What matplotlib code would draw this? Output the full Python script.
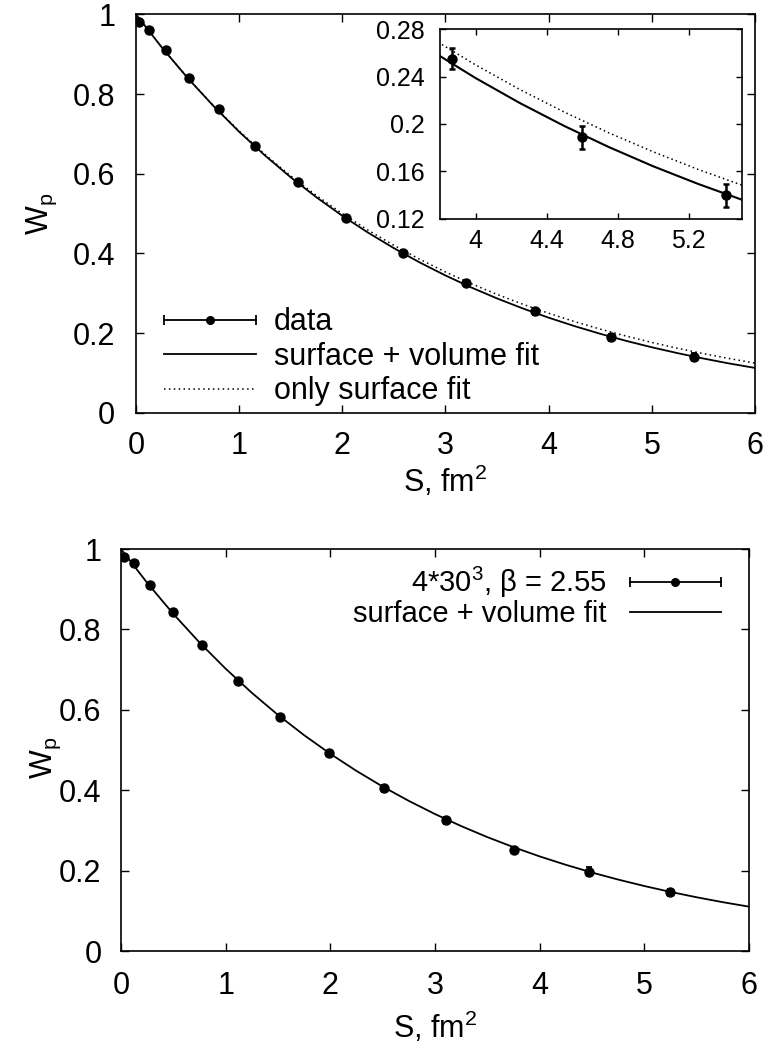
import matplotlib
matplotlib.use("Agg")
import matplotlib.pyplot as plt
from matplotlib.lines import Line2D
from matplotlib.legend_handler import HandlerBase
from matplotlib import font_manager

# ---------------- data ----------------
# top panel: measured points
top_S = [0.03, 0.128, 0.286, 0.512, 0.80, 1.153, 1.571, 2.04, 2.593, 3.198, 3.87, 4.60, 5.41]
top_W = [0.980, 0.961, 0.910, 0.840, 0.762, 0.669, 0.579, 0.488, 0.402, 0.325, 0.255, 0.189, 0.140]
top_err = [0.003, 0.003, 0.003, 0.003, 0.004, 0.004, 0.004, 0.005, 0.006, 0.006, 0.0087, 0.0097, 0.0095]

# fit curves (values read at S grid)
curve_S = [0.0, 0.25, 0.5, 0.75, 1.0, 1.25, 1.5, 1.75, 2.0, 2.25, 2.5, 2.75, 3.0,
           3.25, 3.5, 3.75, 4.0, 4.25, 4.5, 4.75, 5.0, 5.25, 5.5, 5.75, 6.0]
top_sv_fit = [1.0, 0.9169, 0.8404, 0.7700, 0.7052, 0.6457, 0.5909, 0.5406, 0.4944,
              0.4520, 0.4131, 0.3773, 0.3446, 0.3145, 0.2870, 0.2618, 0.2387, 0.2176,
              0.1983, 0.1806, 0.1644, 0.1497, 0.1362, 0.1238, 0.1126]
top_s_fit = [1.0, 0.9170, 0.8408, 0.7710, 0.7070, 0.6483, 0.5944, 0.5451, 0.4998,
             0.4583, 0.4202, 0.3853, 0.3533, 0.3240, 0.2971, 0.2724, 0.2498, 0.2290,
             0.2100, 0.1926, 0.1766, 0.1619, 0.1485, 0.1361, 0.1248]

# bottom panel
bot_S = [0.03, 0.127, 0.28, 0.497, 0.777, 1.118, 1.522, 1.988, 2.514, 3.104, 3.757, 4.473, 5.244]
bot_W = [0.980, 0.964, 0.911, 0.843, 0.761, 0.673, 0.582, 0.493, 0.405, 0.3255, 0.2524, 0.1978, 0.1466]
bot_err = [0.003, 0.003, 0.003, 0.003, 0.004, 0.004, 0.005, 0.006, 0.009, 0.008, 0.008, 0.011, 0.009]
bot_sv_fit = [1.0, 0.9160, 0.8387, 0.7677, 0.7025, 0.6426, 0.5876, 0.5372, 0.4909,
              0.4484, 0.4095, 0.3739, 0.3412, 0.3113, 0.2839, 0.2589, 0.2359, 0.2150,
              0.1958, 0.1783, 0.1623, 0.1477, 0.1343, 0.1221, 0.1110]

x_ticks = [0, 1, 2, 3, 4, 5, 6]
y_ticks = [0, 0.2, 0.4, 0.6, 0.8, 1]
y_ticklabels = ["0", "0.2", "0.4", "0.6", "0.8", "1"]
inset_xticks = [4.0, 4.4, 4.8, 5.2]
inset_xticklabels = ["4", "4.4", "4.8", "5.2"]
inset_yticks = [0.12, 0.16, 0.20, 0.24, 0.28]
inset_yticklabels = ["0.12", "0.16", "0.2", "0.24", "0.28"]

legend_top = ["data", "surface + volume fit", "only surface fit"]
legend_bot = [r"4*30$^3$, β = 2.55", "surface + volume fit"]
xlabel = r"S, fm$^2$"
ylabel = r"W$_\mathrm{p}$"

# ---------------- style ----------------
names = {f.name for f in font_manager.fontManager.ttflist}
main_font = "Liberation Sans"
narrow_font = "Liberation Sans Narrow" if "Liberation Sans Narrow" in names else main_font

plt.rcParams["font.family"] = [main_font, "DejaVu Sans"]
plt.rcParams["mathtext.fontset"] = "custom"
plt.rcParams["mathtext.rm"] = main_font
plt.rcParams["mathtext.it"] = main_font + ":italic"
plt.rcParams["mathtext.sf"] = main_font

FS = 22


class HandlerErrH(HandlerBase):
    def create_artists(self, legend, orig_handle, xdescent, ydescent, width,
                       height, fontsize, trans):
        y = height / 2 - ydescent
        x0 = -xdescent
        x1 = -xdescent + width
        line = Line2D([x0, x1], [y, y], color="k", lw=1.3)
        dot = Line2D([(x0 + x1) / 2], [y], marker="o", ms=5.5, color="k", ls="none")
        caps = Line2D([x0, x1], [y, y], marker="|", ms=7, mew=1.3, ls="none", color="k")
        for a in (line, dot, caps):
            a.set_transform(trans)
        return [line, dot, caps]


def style_axes(ax, fs, family):
    for sp in ax.spines.values():
        sp.set_linewidth(1.2)
    ax.tick_params(direction="in", top=True, right=True, length=6, width=1.0)
    for lab in ax.get_xticklabels() + ax.get_yticklabels():
        lab.set_fontsize(fs)
        lab.set_family([family, "DejaVu Sans"])


fig = plt.figure(figsize=(7.71, 10.5), dpi=100)

# ---------------- top panel ----------------
ax1 = fig.add_axes([0.1764, 0.60686, 0.8028, 0.37952])
eb1 = ax1.errorbar(top_S, top_W, yerr=top_err, fmt="o", color="k", ms=6.5,
                   elinewidth=1.3, capsize=2.5, capthick=1.3)
l1, = ax1.plot(curve_S, top_sv_fit, color="k", lw=1.3)
l2, = ax1.plot(curve_S, top_s_fit, color="k", lw=1.1, ls=(0, (1, 2.2)))
ax1.set_xlim(0, 6)
ax1.set_ylim(0, 1)
ax1.set_xticks(x_ticks)
ax1.set_yticks(y_ticks)
ax1.set_yticklabels(y_ticklabels)
ax1.tick_params(axis="y", pad=15)
ax1.tick_params(axis="x", pad=13)
style_axes(ax1, FS, main_font)
ax1.set_xlabel(xlabel, fontsize=FS, va="top")
ax1.xaxis.set_label_coords(0.5, -0.128)
ax1.set_ylabel(ylabel, fontsize=FS)
ax1.yaxis.set_label_coords(-0.124, 0.5)
ax1.legend([eb1, l1, l2], legend_top, handler_map={type(eb1): HandlerErrH()},
           loc="upper left", bbox_to_anchor=(0.045, 0.265), frameon=False,
           fontsize=FS, handlelength=3.0, handletextpad=0.6, labelspacing=0.15,
           borderpad=0.0, borderaxespad=0.0)

# inset
axi = fig.add_axes([0.5707, 0.79143, 0.3917, 0.18095])
axi.errorbar(top_S, top_W, yerr=top_err, fmt="o", color="k", ms=6.5,
             elinewidth=1.8, capsize=2.5, capthick=1.8)
axi.plot(curve_S, top_sv_fit, color="k", lw=1.5)
axi.plot(curve_S, top_s_fit, color="k", lw=1.1, ls=(0, (1, 2.0)))
axi.set_xlim(3.8, 5.5)
axi.set_ylim(0.12, 0.28)
axi.set_xticks(inset_xticks)
axi.set_xticklabels(inset_xticklabels)
axi.set_yticks(inset_yticks)
axi.set_yticklabels(inset_yticklabels)
style_axes(axi, 18, main_font)
axi.tick_params(length=4)
axi.tick_params(axis="y", pad=11)
axi.tick_params(axis="x", pad=7)

# ---------------- bottom panel ----------------
ax2 = fig.add_axes([0.1569, 0.09400, 0.8145, 0.38314])
eb2 = ax2.errorbar(bot_S, bot_W, yerr=bot_err, fmt="o", color="k", ms=6.5,
                   elinewidth=1.3, capsize=2.5, capthick=1.3)
l3, = ax2.plot(curve_S, bot_sv_fit, color="k", lw=1.3)
ax2.set_xlim(0, 6)
ax2.set_ylim(0, 1)
ax2.set_xticks(x_ticks)
ax2.set_yticks(y_ticks)
ax2.set_yticklabels(y_ticklabels)
ax2.tick_params(axis="y", pad=14)
ax2.tick_params(axis="x", pad=14)
style_axes(ax2, FS, narrow_font)
ax2.set_xlabel(xlabel, fontsize=FS, va="top", family=[narrow_font, "DejaVu Sans"])
ax2.xaxis.set_label_coords(0.5, -0.145)
ax2.set_ylabel(ylabel, fontsize=FS, family=[narrow_font, "DejaVu Sans"])
ax2.yaxis.set_label_coords(-0.093, 0.48)
ax2.legend([eb2, l3], legend_bot, handler_map={type(eb2): HandlerErrH()},
           loc="upper right", bbox_to_anchor=(0.955, 0.96), frameon=False,
           handlelength=3.1, handletextpad=0.8, labelspacing=0.0,
           borderpad=0.0, borderaxespad=0.0, markerfirst=False,
           prop={"family": [narrow_font, "DejaVu Sans"], "size": 21})

fig.savefig("out.png", dpi=100)
